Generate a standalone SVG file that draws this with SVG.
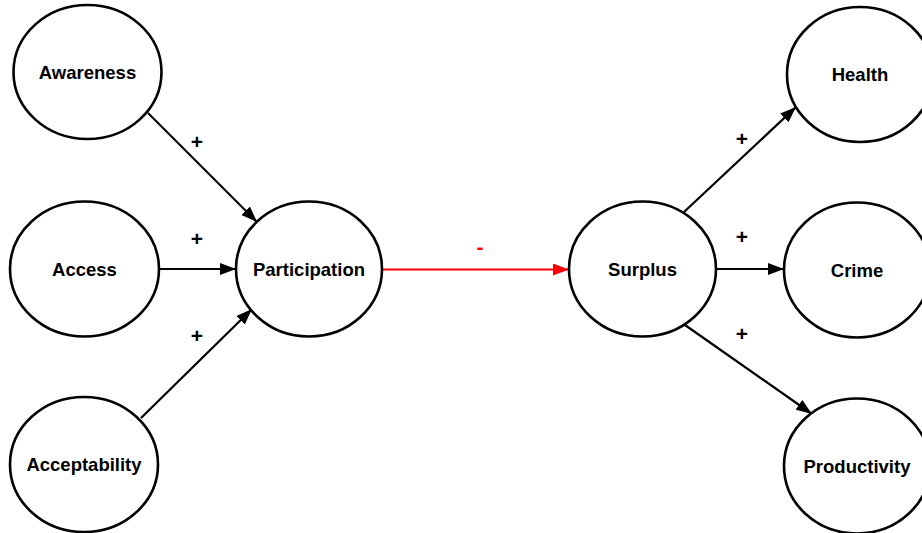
<svg xmlns="http://www.w3.org/2000/svg" width="922" height="533" viewBox="0 0 922 533">
<style>
.node ellipse{fill:#fff;stroke:#000;stroke-width:2.6}
.node text{font-family:"Liberation Sans",Arial,sans-serif;font-weight:bold;font-size:18.5px;fill:#000;text-anchor:middle;dominant-baseline:central}
.edge{stroke:#000;stroke-width:2.2;fill:none}
.edge.neg{stroke:#f00}
.lbl{font-family:"Liberation Sans",Arial,sans-serif;font-weight:bold;font-size:21px;text-anchor:middle;dominant-baseline:central}
</style>
<defs>
<marker id="ab" markerUnits="userSpaceOnUse" markerWidth="16" markerHeight="12" refX="16" refY="6" orient="auto"><path d="M0,0 L16,6 L0,12 z" fill="#000"/></marker>
<marker id="ar" markerUnits="userSpaceOnUse" markerWidth="16" markerHeight="12" refX="16" refY="6" orient="auto"><path d="M0,0 L16,6 L0,12 z" fill="#f00"/></marker>
</defs>
<g id="connectors">
<line class="edge" x1="148" y1="113" x2="257" y2="222" marker-end="url(#ab)"/>
<line class="edge" x1="159" y1="269" x2="236" y2="269" marker-end="url(#ab)"/>
<line class="edge" x1="141" y1="418" x2="252" y2="309" marker-end="url(#ab)"/>
<line class="edge neg" x1="383" y1="269.5" x2="569" y2="269.5" marker-end="url(#ar)"/>
<line class="edge" x1="684" y1="212" x2="796" y2="107" marker-end="url(#ab)"/>
<line class="edge" x1="716" y1="269" x2="784" y2="269" marker-end="url(#ab)"/>
<line class="edge" x1="685" y1="325" x2="812" y2="414" marker-end="url(#ab)"/>
<text class="lbl" x="197" y="141">+</text>
<text class="lbl" x="197" y="238">+</text>
<text class="lbl" x="197" y="335">+</text>
<text class="lbl" x="480" y="246" fill="#f00">-</text>
<text class="lbl" x="742" y="138">+</text>
<text class="lbl" x="742" y="236">+</text>
<text class="lbl" x="742" y="333">+</text>
</g>
<g id="awareness" class="node"><ellipse cx="87.5" cy="72" rx="74" ry="67"/><text x="87.5" y="72">Awareness</text></g>
<g id="access" class="node"><ellipse cx="84.5" cy="269" rx="74.5" ry="67.5"/><text x="84.5" y="269">Access</text></g>
<g id="acceptability" class="node"><ellipse cx="84" cy="464.5" rx="74" ry="67.5"/><text x="84" y="464.5">Acceptability</text></g>
<g id="participation" class="node"><ellipse cx="309" cy="269" rx="73" ry="67.5"/><text x="309" y="269">Participation</text></g>
<g id="surplus" class="node"><ellipse cx="642.5" cy="269" rx="73.5" ry="67.5"/><text x="642.5" y="269">Surplus</text></g>
<g id="health" class="node"><ellipse cx="860" cy="74.5" rx="73" ry="67.5"/><text x="860" y="74.5">Health</text></g>
<g id="crime" class="node"><ellipse cx="857" cy="270" rx="73" ry="67.5"/><text x="857" y="270">Crime</text></g>
<g id="productivity" class="node"><ellipse cx="857" cy="466" rx="73" ry="67.5"/><text x="857" y="466">Productivity</text></g>
</svg>
